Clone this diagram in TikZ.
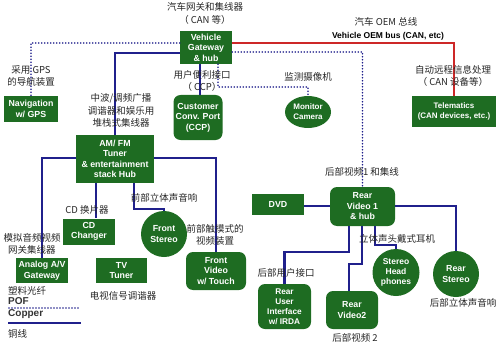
\documentclass[tikz,border=0pt]{standalone}
\usepackage{fontspec}
\setmainfont{Liberation Sans}
\newfontfamily\cjk{Noto Sans CJK SC}
\usetikzlibrary{shapes.geometric}
\definecolor{boxgreen}{RGB}{30,108,34}
\definecolor{busblue}{RGB}{32,32,140}
\definecolor{canred}{RGB}{205,40,40}
\tikzset{
  box/.style={fill=boxgreen, text=white, font=\fontsize{8.8}{10.5}\selectfont\bfseries, align=center, inner sep=0pt},
  rbox/.style={box, rounded corners=7pt},
  circ/.style={box, circle},
  oval/.style={box, ellipse},
  lbl/.style={font=\cjk\fontsize{9.5}{12}\selectfont, text=black!85, align=center, inner sep=0pt},
  copper/.style={draw=busblue, line width=2.3pt},
  pof/.style={draw=busblue, line width=1.8pt, line cap=round, dash pattern=on 0pt off 3pt},
  can/.style={draw=canred, line width=2pt},
}
\begin{document}
\begin{tikzpicture}[x=1pt,y=-1pt]
\useasboundingbox (0,0) rectangle (500,350);
% nodes
\node[box, minimum width=52pt, minimum height=33pt] (gw) at (206,47.5) {Vehicle\\Gateway\\\& hub};
\node[box, minimum width=84pt, minimum height=31pt, font=\fontsize{8}{10}\selectfont\bfseries] (tel) at (454,111.5) {Telematics\\(CAN devices, etc.)};
\node[box, minimum width=54pt, minimum height=26pt] (nav) at (31,109) {Navigation\\w/ GPS};
\node[rbox, minimum width=49pt, minimum height=45pt] (ccp) at (198,117.5) {Customer\\Conv. Port\\(CCP)};
\node[oval, minimum width=46pt, minimum height=32pt, font=\fontsize{8}{10}\selectfont\bfseries] (cam) at (308,112) {Monitor\\Camera};
\node[box, minimum width=78pt, minimum height=48pt] (amfm) at (115,159) {AM/ FM\\Tuner\\\& entertainment\\stack Hub};
\node[box, minimum width=52pt, minimum height=26pt] (cd) at (89,231.5) {CD\\Changer};
\node[circ, minimum size=46pt] (fs) at (164,234) {Front\\Stereo};
\node[rbox, minimum width=60pt, minimum height=38pt] (fv) at (216,271) {Front\\Video\\w/ Touch};
\node[box, minimum width=51pt, minimum height=25pt] (tv) at (121.5,270.5) {TV\\Tuner};
\node[box, minimum width=52pt, minimum height=25pt] (av) at (42,270.5) {Analog A/V\\Gateway};
\node[box, minimum width=52pt, minimum height=21pt] (dvd) at (278,204) {DVD};
\node[rbox, minimum width=65pt, minimum height=39pt] (rv1) at (362.5,206.5) {Rear\\Video 1\\\& hub};
\node[circ, minimum size=46pt] (rs) at (456,274) {Rear\\Stereo};
\node[circ, minimum size=47pt, font=\fontsize{8.5}{10}\selectfont\bfseries] (sh) at (396,272.5) {Stereo\\Head\\phones};
\node[rbox, minimum width=53pt, minimum height=45pt, font=\fontsize{8.3}{10}\selectfont\bfseries] (rui) at (284.5,306.5) {Rear\\User\\Interface\\w/ IRDA};
\node[rbox, minimum width=52pt, minimum height=38pt] (rv2) at (352,310) {Rear\\Video2};
% connectors
\draw[can] (gw.east |- 0,43) -| (tel.north);
\draw[pof] (gw.west |- 0,43) -| (nav.north);
\draw[pof] (gw.east |- 0,52) -| (rv1.north);
\coordinate (camc) at (218,87);
\draw[pof] (gw.south -| camc) -- (camc) -| (cam.north);
\draw[copper] (gw.south -| 200,0) -- (ccp.north -| 200,0);
\draw[copper] (gw.west |- 0,53) -| (amfm.north);
\draw[copper] (amfm.west |- 0,158) -| (av.north);
\draw[copper] (amfm.east |- 0,158) -| (fv.north);
\draw[copper] (amfm.south -| 96,0) -- (cd.north -| 96,0);
\draw[copper] (amfm.south -| 134,0) |- (fs.north |- 0,209) -- (fs.north);
\draw[copper] (dvd.east |- 0,206) -- (rv1.west |- 0,206);
\draw[copper] (rv1.east |- 0,206) -| (rs.north);
\draw[copper] (rv1.south -| 375,0) |- (sh.north |- 0,245) -- (sh.north);
\draw[copper] (rv1.south -| 349,0) |- (rui.north |- 0,252) -- (rui.north);
\coordinate (rv2c) at (349,264);
\draw[copper] (rv1.south -| 362,0) |- (rv2c) -- (rv2.north -| rv2c);
% labels
\node[lbl] (l1) at (205,7) {汽车网关和集线器};
\node[lbl] (l2) at (205,20) {（ CAN 等）};
\node[lbl] (l3) at (386,22) {汽车 OEM 总线};
\node[font=\fontsize{8.5}{9}\selectfont\bfseries, inner sep=0pt] (l4) at (388,36) {Vehicle OEM bus (CAN, etc)};
\node[lbl] (l5) at (453,76) {自动远程信息处理\\（ CAN 设备等）};
\node[lbl] (l6) at (31,76) {采用 GPS\\的导航装置};
\node[lbl] (l7) at (202,80.5) {用户便利接口\\（ CCP）};
\node[lbl] (l8) at (308,77) {监测摄像机};
\node[lbl, font=\cjk\fontsize{9.5}{12.5}\selectfont] (l9) at (121,110.5) {中波/调频广播\\调谐器和娱乐用\\堆栈式集线器};
\node[lbl] (l10) at (164,198) {前部立体声音响};
\node[lbl] (l11) at (87,210) {CD 换片器};
\node[lbl] (l12) at (215,235) {前部触摸式的\\视频装置};
\node[lbl] (l13) at (32,243.5) {模拟音频视频\\网关集线器};
\node[lbl] (l14) at (123,296) {电视信号调谐器};
\node[lbl] (l15) at (362,172) {后部视频1 和集线};
\node[lbl] (l16) at (397,239) {立体声头戴式耳机};
\node[lbl] (l17) at (286,273) {后部用户接口};
\node[lbl] (l18) at (463,303) {后部立体声音响};
\node[lbl] (l19) at (355,338) {后部视频 2};
% legend
\node[lbl, anchor=west] (lg1) at (8,291) {塑料光纤};
\node[font=\fontsize{10}{11}\selectfont\bfseries, text=black!80, anchor=west, inner sep=0pt] (lg2) at (8,301.5) {POF};
\coordinate (pa) at (9,308);
\coordinate (pb) at (79,308);
\draw[pof] (pa) -- (pb);
\node[font=\fontsize{10}{11}\selectfont\bfseries, text=black!80, anchor=west, inner sep=0pt] (lg3) at (8,314.5) {Copper};
\coordinate (ca) at (8,323);
\coordinate (cb) at (81,323);
\draw[copper] (ca) -- (cb);
\node[lbl, anchor=west] (lg4) at (8,334) {铜线};
\end{tikzpicture}
\end{document}
